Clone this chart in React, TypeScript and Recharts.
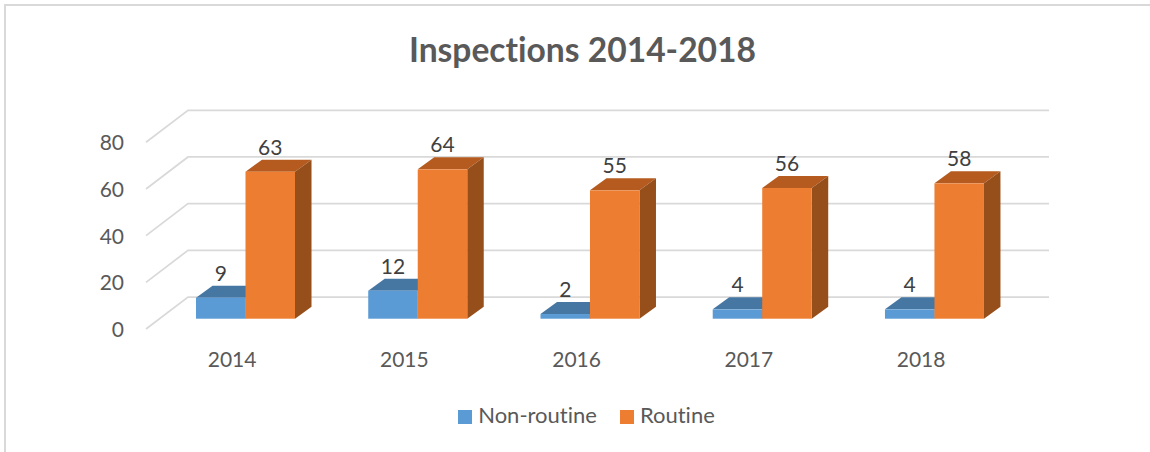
import React from 'react';
import { BarChart, Bar, XAxis, YAxis, CartesianGrid, Legend, LabelList } from 'recharts';

const years = ['2014', '2015', '2016', '2017', '2018'];
const nonRoutine = [9, 12, 2, 4, 4];
const routine = [63, 64, 55, 56, 58];
const yTicks = [0, 20, 40, 60, 80];

const data = years.map((year, i) => ({ year, nonRoutine: nonRoutine[i], routine: routine[i] }));

const FONT = 'Lato, "Open Sans", sans-serif';
const GRID = '#d9d9d9';

// depth of a bar, as drawn on the slanted floor
const BAR_DX = 16.5;
const BAR_DY = 12;

const make3dBar = (front: string, top: string, side: string) => (props: any) => {
    const { x, y, width, height } = props;
    const r = x + width;
    const b = y + height;
    return (
        <g>
            <polygon points={`${x},${y} ${x + BAR_DX},${y - BAR_DY} ${r + BAR_DX},${y - BAR_DY} ${r},${y}`} fill={top} />
            <polygon points={`${r},${y} ${r + BAR_DX},${y - BAR_DY} ${r + BAR_DX},${b - BAR_DY} ${r},${b}`} fill={side} />
            <rect x={x} y={y} width={width} height={height} fill={front} />
        </g>
    );
};

const BlueBar = make3dBar('#5B9BD5', '#4676A2', '#3F6E98');
const OrangeBar = make3dBar('#ED7D31', '#B55B1F', '#964F1B');

// back wall line plus the slanted piece running to the front
const WallLine = (props: any) => {
    const { x1, x2, y1 } = props;
    return (
        <polyline
            points={`${x1 - 13},${y1 + 10.3} ${x1 + 29},${y1 - 21.7} ${x2 + 28.8},${y1 - 21.7}`}
            fill="none"
            stroke={GRID}
            strokeWidth={1.75}
        />
    );
};

export default function App() {
    return (
        <div style={{ position: 'absolute', left: 0, top: 0, width: 1150, height: 452, background: '#fff', overflow: 'hidden', fontFamily: FONT, fontVariantLigatures: 'none' }}>
            <div style={{ position: 'absolute', left: 4, top: 4, width: 1146, height: 448, borderLeft: `2px solid ${GRID}`, borderTop: `2px solid ${GRID}` }} />
            <div style={{ position: 'absolute', left: 0, width: 1165, top: 29, textAlign: 'center', fontSize: 33.6, fontWeight: 700, color: '#595959', lineHeight: '40px' }}>
                Inspections 2014-2018
            </div>
            <BarChart
                width={1150}
                height={452}
                data={data}
                margin={{ top: 132, right: 129.8, bottom: 103.3, left: 99 }}
                barGap={0}
                barSize={49.5}
                style={{ position: 'absolute', left: 0, top: 0 }}
            >
                <CartesianGrid vertical={false} horizontal={WallLine} />
                <XAxis
                    dataKey="year"
                    height={30}
                    axisLine={false}
                    tickLine={false}
                    tickMargin={27}
                    tick={{ fill: '#595959', fontSize: 21, dx: -13 }}
                />
                <YAxis
                    width={60}
                    domain={[0, 80]}
                    ticks={yTicks}
                    axisLine={false}
                    tickLine={false}
                    tickSize={0}
                    tickMargin={35}
                    tick={{ fill: '#595959', fontSize: 21, dy: 11 }}
                />
                <Legend
                    layout="horizontal"
                    verticalAlign="middle"
                    align="center"
                    iconType="square"
                    iconSize={14}
                    wrapperStyle={{ left: 438, top: 401, width: 320, textAlign: 'left', fontSize: 22, color: '#595959' }}
                    formatter={(value: string) => <span style={{ color: '#595959', marginLeft: 2, marginRight: 13 }}>{value}</span>}
                />
                <Bar dataKey="nonRoutine" name="Non-routine" fill="#5B9BD5" shape={BlueBar} isAnimationActive={false}>
                    <LabelList dataKey="nonRoutine" position="top" offset={17} fill="#404040" fontSize={21} />
                </Bar>
                <Bar dataKey="routine" name="Routine" fill="#ED7D31" shape={OrangeBar} isAnimationActive={false}>
                    <LabelList dataKey="routine" position="top" offset={17} fill="#404040" fontSize={21} />
                </Bar>
            </BarChart>
        </div>
    );
}
